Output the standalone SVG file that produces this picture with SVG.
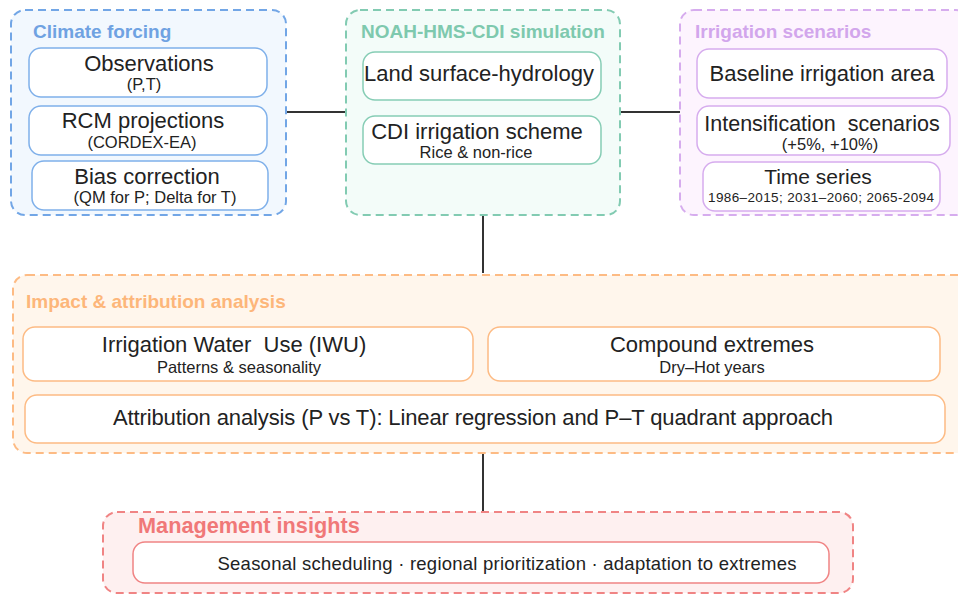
<svg xmlns="http://www.w3.org/2000/svg" width="958" height="594" viewBox="0 0 958 594">
<style>
text{font-family:"Liberation Sans",Arial,sans-serif;fill:#222}
.t{font-weight:bold;font-size:19px}
.m{font-size:22px;text-anchor:middle}
.s{font-size:16.5px;text-anchor:middle}
.outer{stroke-width:2;stroke-dasharray:8 5}
.inner{fill:#fff;stroke-width:1.5}
.blue .outer{fill:#f2f8fe;stroke:#72a6e6}
.blue .inner{stroke:#7fb0ea}
.blue .t{fill:#6fa2e2}
.green .outer{fill:#f3fcf9;stroke:#82cbb2}
.green .inner{stroke:#86cdb5}
.green .t{fill:#7ec9ae}
.purple .outer{fill:#fdf4fe;stroke:#d6acee}
.purple .inner{stroke:#d6acee}
.purple .t{fill:#d2a6ec}
.orange .outer{fill:#fff6ec;stroke:#fdbb84}
.orange .inner{stroke:#fdbb84}
.orange .t{fill:#fdb67a}
.red .outer{fill:#fef0f0;stroke:#f08484}
.red .inner{stroke:#f08484}
.red .t{fill:#f07878}
.conn line{stroke:#333;stroke-width:2}
</style>
<g id="connectors" class="conn">
<line x1="286" y1="112" x2="346" y2="112"/>
<line x1="620" y1="112" x2="680" y2="112"/>
<line x1="483" y1="215" x2="483" y2="273"/>
<line x1="483" y1="453" x2="483" y2="512"/>
</g>
<g id="climate" class="blue">
<rect class="outer" x="11" y="10" width="275" height="205" rx="14"/>
<text class="t" x="33" y="38">Climate forcing</text>
<g id="obs"><rect class="inner" x="29" y="48" width="238" height="49" rx="12"/>
<text class="m" x="149" y="71">Observations</text><text class="s" x="144" y="90">(P,T)</text></g>
<g id="rcm"><rect class="inner" x="29" y="106" width="238" height="49" rx="12"/>
<text class="m" x="143" y="128">RCM projections</text><text class="s" x="142" y="148">(CORDEX-EA)</text></g>
<g id="bias"><rect class="inner" x="32" y="161" width="236" height="49" rx="12"/>
<text class="m" x="147" y="184">Bias correction</text><text class="s" x="155" y="203">(QM for P; Delta for T)</text></g>
</g>
<g id="noah" class="green">
<rect class="outer" x="346" y="10" width="274" height="205" rx="14"/>
<text class="t" x="361" y="38">NOAH-HMS-CDI simulation</text>
<g id="land"><rect class="inner" x="363" y="52" width="238" height="48" rx="12"/>
<text class="m" x="479" y="81">Land surface-hydrology</text></g>
<g id="cdi"><rect class="inner" x="363" y="116" width="238" height="48" rx="12"/>
<text class="m" x="477" y="139">CDI irrigation scheme</text><text class="s" x="476" y="158">Rice &amp; non-rice</text></g>
</g>
<g id="irrigation" class="purple">
<rect class="outer" x="680" y="10" width="290" height="205" rx="14"/>
<text class="t" x="695" y="38">Irrigation scenarios</text>
<g id="baseline"><rect class="inner" x="697" y="49" width="250" height="49" rx="12"/>
<text class="m" x="822" y="81">Baseline irrigation area</text></g>
<g id="intens"><rect class="inner" x="697" y="106" width="253" height="49" rx="12"/>
<text class="m" x="822" y="131" style="font-size:21.5px" xml:space="preserve">Intensification  scenarios</text><text class="s" x="830" y="150">(+5%, +10%)</text></g>
<g id="time"><rect class="inner" x="703" y="162" width="237" height="49" rx="12"/>
<text class="m" x="818" y="184" style="font-size:21px">Time series</text><text class="s" x="821" y="202" style="font-size:13.5px" textLength="226">1986–2015; 2031–2060; 2065-2094</text></g>
</g>
<g id="impact" class="orange">
<rect class="outer" x="13" y="275" width="960" height="178" rx="14"/>
<text class="t" x="26" y="308">Impact &amp; attribution analysis</text>
<g id="iwu"><rect class="inner" x="23" y="327" width="450" height="54" rx="12"/>
<text class="m" x="234" y="352" xml:space="preserve">Irrigation Water  Use (IWU)</text><text class="s" x="239" y="373">Patterns &amp; seasonality</text></g>
<g id="compound"><rect class="inner" x="488" y="327" width="452" height="54" rx="12"/>
<text class="m" x="712" y="352">Compound extremes</text><text class="s" x="712" y="373">Dry–Hot years</text></g>
<g id="attrib"><rect class="inner" x="25" y="395" width="920" height="48" rx="12"/>
<text class="m" x="473" y="425" textLength="720">Attribution analysis (P vs T): Linear regression and P–T quadrant approach</text></g>
</g>
<g id="management" class="red">
<rect class="outer" x="103" y="512" width="750" height="81" rx="14"/>
<text class="t" x="138" y="533" style="font-size:21.7px">Management insights</text>
<g id="insights"><rect class="inner" x="133" y="542" width="696" height="41" rx="12"/>
<text class="m" x="507" y="570" style="font-size:18.5px" textLength="579">Seasonal scheduling · regional prioritization · adaptation to extremes</text></g>
</g>
</svg>
